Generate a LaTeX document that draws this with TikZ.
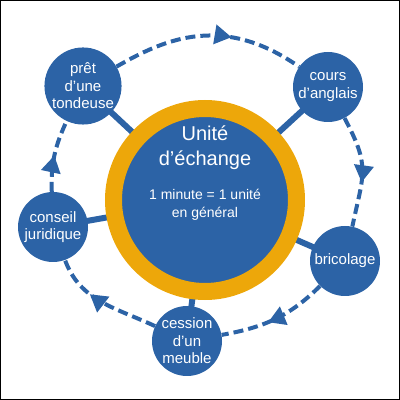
\documentclass[tikz,border=0pt]{standalone}
\usepackage{fontspec}
\setmainfont{Liberation Sans}
\usepackage{tikz}
\definecolor{tbblue}{HTML}{2C63A6}
\definecolor{tbgold}{HTML}{EDA70A}
\usetikzlibrary{arrows.meta, positioning, calc, backgrounds, decorations.markings}

\begin{document}
\begin{tikzpicture}[x=1pt, y=1pt,
    sat/.style={circle, fill=tbblue, minimum size=70pt, inner sep=0pt, text=white,
      align=center, font=\fontsize{15}{17.5}\selectfont},
    hubdisc/.style={circle, fill=tbblue, draw=tbgold, line width=17pt, minimum size=183pt, inner sep=0pt},
    spoke/.style={tbblue, line width=6pt},
    flow/.style={tbblue, line width=4pt, dash pattern=on 10pt off 5pt,
      postaction={decorate},
      decoration={markings, mark=at position #1 with {\arrow{Triangle[length=17pt,width=19pt]}}}},
    flow/.default=0.5]
  \useasboundingbox (0,0) rectangle (400,400);
  \draw[line width=1.2pt] (0.6,0.6) rectangle (399.4,399.4);

  % Centre
  \node[hubdisc] (hub) at (205,200) {};
  \node[text=white, align=center, font=\fontsize{20}{25}\selectfont] (hubtxt) at (205,227)
    {Unité\\d’échange\\[9pt]
     {\fontsize{14}{18}\selectfont 1 minute = 1 unité}\\[-7pt]
     {\fontsize{14}{18}\selectfont en général}};

  % Services
  \foreach \nm/\x/\y/\txt in {tond/83/314/{prêt\\d’une\\tondeuse}, cours/328/313/{cours\\d’anglais},
      bric/345/139/bricolage, cess/187/59/{cession\\d’un\\meuble}, cons/53/173/{conseil\\juridique}}{
    \node[sat] (\nm) at (\x,\y) {\txt};
  }

  \begin{scope}[on background layer]
    \foreach \nm in {tond, cours, bric, cess, cons}
      \draw[spoke] (hub.center) -- (\nm.center);
  \end{scope}

  % Exchange cycle
  \foreach \a/\b/\o/\i/\lo/\li/\p in {tond/cours/30/145/0.8/1.3/0.62, cours/bric/-62/78/1.3/1.3/0.6,
      bric/cess/-135/10/1/1/0.57, cess/cons/155/-70/1/1/0.63, cons/tond/92/-115/1/1/0.5}{
    \draw[flow=\p] (\a) to[out=\o, in=\i, out looseness=\lo, in looseness=\li] (\b);
  }
\end{tikzpicture}
\end{document}
